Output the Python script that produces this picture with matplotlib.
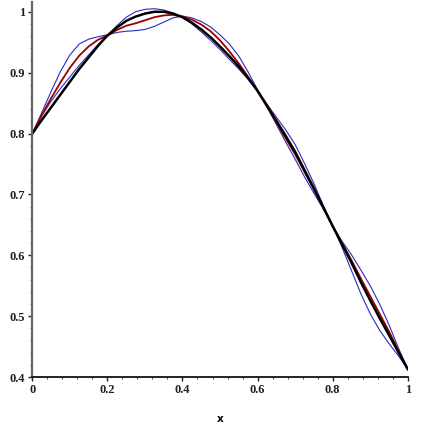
import matplotlib
matplotlib.use("Agg")
import matplotlib.pyplot as plt
from matplotlib.ticker import MultipleLocator

# sample positions read along the x axis
x = [0.000, 0.025, 0.050, 0.075, 0.100, 0.125, 0.150, 0.175, 0.200, 0.225,
     0.250, 0.275, 0.300, 0.325, 0.350, 0.375, 0.400, 0.425, 0.450, 0.475,
     0.500, 0.525, 0.550, 0.575, 0.600, 0.625, 0.650, 0.675, 0.700, 0.725,
     0.750, 0.775, 0.800, 0.825, 0.850, 0.875, 0.900, 0.925, 0.950, 0.975,
     1.000]

# exact function (black)
f_exact = [0.800, 0.822, 0.843, 0.864, 0.885, 0.906, 0.925, 0.944, 0.961, 0.974,
           0.985, 0.992, 0.997, 1.000, 1.000, 0.997, 0.991, 0.982, 0.971, 0.958,
           0.943, 0.927, 0.910, 0.891, 0.870, 0.846, 0.821, 0.796, 0.770, 0.740,
           0.710, 0.679, 0.648, 0.618, 0.588, 0.556, 0.526, 0.497, 0.469, 0.441,
           0.413]

# approximation (red)
f_red = [0.800, 0.830, 0.858, 0.884, 0.908, 0.928, 0.943, 0.954, 0.961, 0.970,
         0.977, 0.981, 0.986, 0.991, 0.994, 0.995, 0.992, 0.987, 0.979, 0.968,
         0.953, 0.935, 0.915, 0.893, 0.870, 0.844, 0.818, 0.792, 0.766, 0.737,
         0.708, 0.678, 0.648, 0.620, 0.592, 0.562, 0.533, 0.504, 0.475, 0.444,
         0.413]

# approximations (blue)
f_blue1 = [0.800, 0.834, 0.869, 0.902, 0.929, 0.947, 0.955, 0.959, 0.962, 0.966,
           0.968, 0.969, 0.971, 0.976, 0.983, 0.990, 0.993, 0.990, 0.984, 0.975,
           0.962, 0.947, 0.927, 0.901, 0.872, 0.844, 0.815, 0.786, 0.758, 0.729,
           0.702, 0.676, 0.648, 0.623, 0.601, 0.576, 0.550, 0.520, 0.486, 0.448,
           0.413]

f_blue2 = [0.800, 0.829, 0.853, 0.874, 0.893, 0.912, 0.929, 0.946, 0.961, 0.977,
           0.991, 1.000, 1.004, 1.005, 1.003, 0.998, 0.991, 0.980, 0.967, 0.953,
           0.938, 0.922, 0.906, 0.889, 0.870, 0.848, 0.827, 0.806, 0.782, 0.751,
           0.718, 0.682, 0.648, 0.613, 0.575, 0.537, 0.504, 0.477, 0.455, 0.435,
           0.413]

fig = plt.figure(figsize=(4.23, 4.23), dpi=100)
ax = fig.add_axes([0.0764, 0.1087, 0.8875, 0.8865])

ax.plot(x, f_blue1, color="#2b2bbf", lw=0.8)
ax.plot(x, f_blue2, color="#2b2bbf", lw=0.8)
ax.plot(x, f_red, color="#9a0000", lw=1.3)
ax.plot(x, f_exact, color="black", lw=1.8)

ax.set_xlim(0, 1)
ax.set_ylim(0.4, 1.016)

ax.spines["top"].set_visible(False)
ax.spines["right"].set_visible(False)
ax.spines["left"].set_color("#666666")
ax.spines["left"].set_linewidth(1.6)
ax.spines["bottom"].set_color("#111111")
ax.spines["bottom"].set_linewidth(1.3)

ax.xaxis.set_major_locator(MultipleLocator(0.2))
ax.xaxis.set_minor_locator(MultipleLocator(0.04))
ax.yaxis.set_major_locator(MultipleLocator(0.1))
ax.yaxis.set_minor_locator(MultipleLocator(0.02))
ax.tick_params(which="major", length=3, width=1, pad=2, colors="#222222")
ax.tick_params(which="minor", length=1.5, width=0.8, colors="#555555")

ax.set_xticks([0, 0.2, 0.4, 0.6, 0.8, 1.0])
ax.set_xticklabels(["0", "0.2", "0.4", "0.6", "0.8", "1"])
ax.set_yticks([0.4, 0.5, 0.6, 0.7, 0.8, 0.9, 1.0])
ax.set_yticklabels(["0.4", "0.5", "0.6", "0.7", "0.8", "0.9", "1"])
for lab in ax.get_xticklabels() + ax.get_yticklabels():
    lab.set_fontfamily("Liberation Serif")
    lab.set_fontweight("bold")
    lab.set_fontsize(9)

ax.set_xlabel("x", fontfamily="DejaVu Sans", fontweight="bold", fontsize=7.5, labelpad=13)

fig.savefig("out.png", dpi=100)
